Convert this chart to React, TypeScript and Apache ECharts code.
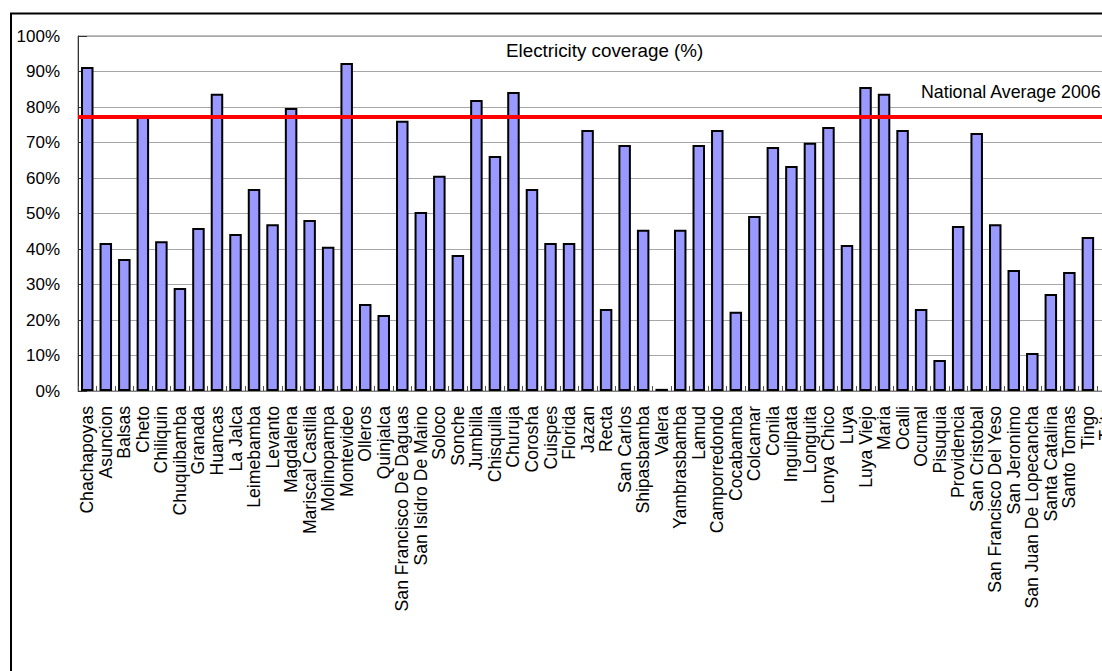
import React, { useEffect, useRef } from "react";
import * as echarts from "echarts";

const districts: string[] = [
  "Chachapoyas", "Asuncion", "Balsas", "Cheto", "Chiliquin", "Chuquibamba", "Granada", "Huancas",
  "La Jalca", "Leimebamba", "Levanto", "Magdalena", "Mariscal Castilla", "Molinopampa", "Montevideo",
  "Olleros", "Quinjalca", "San Francisco De Daguas", "San Isidro De Maino", "Soloco", "Sonche",
  "Jumbilla", "Chisquilla", "Churuja", "Corosha", "Cuispes", "Florida", "Jazan", "Recta", "San Carlos",
  "Shipasbamba", "Valera", "Yambrasbamba", "Lamud", "Camporredondo", "Cocabamba", "Colcamar", "Conila",
  "Inguilpata", "Longuita", "Lonya Chico", "Luya", "Luya Viejo", "Maria", "Ocalli", "Ocumal", "Pisuquia",
  "Providencia", "San Cristobal", "San Francisco Del Yeso", "San Jeronimo", "San Juan De Lopecancha",
  "Santa Catalina", "Santo Tomas", "Tingo", "Trita",
];

const coverage: (number | null)[] = [
  91.3, 41.7, 37.2, 77.7, 42.2, 29.0, 45.9, 83.7,
  44.2, 56.9, 47.0, 79.7, 48.2, 40.6, 92.4,
  24.5, 21.4, 76.1, 50.4, 60.6, 38.3,
  82.0, 66.2, 84.2, 56.9, 41.7, 41.7, 73.5, 23.1, 69.3,
  45.4, 0.6, 45.4, 69.3, 73.5, 22.3, 49.3, 68.7,
  63.4, 69.9, 74.4, 41.1, 85.6, 83.7, 73.5, 23.1, 8.7,
  46.5, 72.7, 47.0, 34.1, 10.7,
  27.3, 33.5, 43.4, null,
];

const nationalAverage = 77.3;
const chartTitle = "Electricity coverage (%)";
const averageLabel = "National Average 2006";

const FONT = "'Liberation Sans', Arial, sans-serif";

export default function App() {
  const ref = useRef<HTMLDivElement>(null);

  useEffect(() => {
    if (!ref.current) return;
    const chart = echarts.init(ref.current, null, { renderer: "svg" });
    const W = 1140;
    const catW = 18.53;
    const gridLeft = 78;
    const gridRight = W - (gridLeft + districts.length * catW);
    chart.setOption({
      animation: false,
      backgroundColor: "#ffffff",
      textStyle: { fontFamily: FONT },
      grid: {
        left: gridLeft,
        top: 36,
        bottom: 720 - 391,
        right: gridRight,
        show: true,
        borderColor: "#808080",
        borderWidth: 1,
      },
      xAxis: {
        type: "category",
        data: districts,
        axisLine: { show: true, lineStyle: { color: "#808080", width: 1 } },
        axisTick: { show: true, inside: true, length: 5, lineStyle: { color: "#555" } },
        axisLabel: {
          interval: 0,
          rotate: 90,
          margin: 15,
          fontSize: 17.6,
          color: "#000",
          fontFamily: FONT,
        },
        splitLine: { show: false },
      },
      yAxis: {
        type: "value",
        min: 0,
        max: 100,
        interval: 10,
        axisLine: { show: true, lineStyle: { color: "#333", width: 1 } },
        axisTick: { show: true, inside: true, length: 9, lineStyle: { color: "#333" } },
        axisLabel: {
          formatter: "{value}%",
          fontSize: 17,
          color: "#000",
          margin: 18,
          fontFamily: FONT,
        },
        splitLine: { show: true, lineStyle: { color: "#a6a6a6", width: 1 } },
      },
      series: [
        {
          type: "bar",
          data: coverage,
          barWidth: 12.5,
          itemStyle: { color: "#9999FF", borderColor: "#000", borderWidth: 2 },
          markLine: {
            silent: true,
            symbol: "none",
            label: { show: false },
            lineStyle: { color: "#FF0000", width: 4, type: "solid" },
            data: [{ yAxis: nationalAverage }],
            z: 10,
          },
        },
      ],
      graphic: [
        {
          type: "rect",
          z: 100,
          silent: true,
          shape: { x: 11, y: 13.5, width: 1400, height: 1000 },
          style: { fill: "none", stroke: "#000", lineWidth: 2 },
        },
        {
          type: "text",
          z: 100,
          x: 506,
          y: 41,
          style: {
            text: chartTitle,
            fontSize: 18.8,
            fontFamily: FONT,
            fill: "#000",
            textAlign: "left",
            textVerticalAlign: "top",
          },
        },
        {
          type: "text",
          z: 100,
          x: 921,
          y: 83,
          style: {
            text: averageLabel,
            fontSize: 17.8,
            fontFamily: FONT,
            fill: "#000",
            textAlign: "left",
            textVerticalAlign: "top",
          },
        },
      ],
    });
    return () => chart.dispose();
  }, []);

  return (
    <div
      style={{
        position: "fixed",
        left: 0,
        top: 0,
        width: 1102,
        height: 671,
        overflow: "hidden",
        background: "#fff",
      }}
    >
      <div ref={ref} style={{ position: "absolute", left: 0, top: 0, width: 1140, height: 720 }} />
    </div>
  );
}
